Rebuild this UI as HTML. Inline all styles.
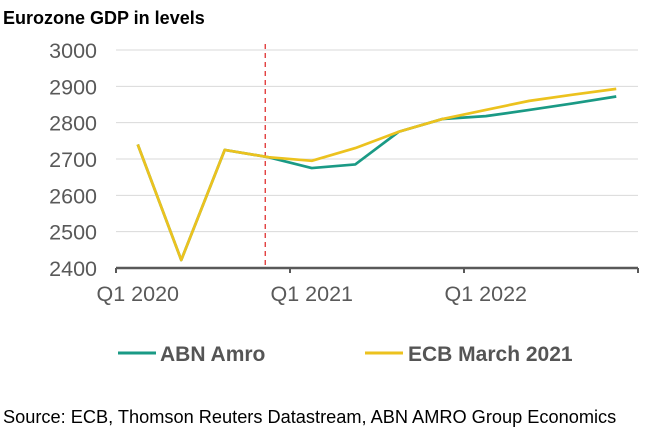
<!DOCTYPE html>
<html><head><meta charset="utf-8"><style>
body{margin:0;background:#fff;width:650px;height:440px;overflow:hidden;font-family:"Liberation Sans",sans-serif}
svg{display:block}
</style></head><body>
<svg id="c" width="650" height="440">
<text x="3" y="24" font-size="18" font-weight="bold" fill="#000">Eurozone GDP in levels</text>
<g id="grid"></g><g id="series"></g>
<g>
<line x1="118" y1="353" x2="156" y2="353" stroke="#1a9a85" stroke-width="3"/>
<text x="160" y="361" font-size="21" font-weight="bold" fill="#555">ABN Amro</text>
<line x1="365" y1="353" x2="403" y2="353" stroke="#ecc21e" stroke-width="3"/>
<text x="408" y="361" font-size="21" font-weight="bold" fill="#555">ECB March 2021</text>
</g>
<text x="3" y="423" font-size="18.2" fill="#000">Source: ECB, Thomson Reuters Datastream, ABN AMRO Group Economics</text>
</svg>
<script>
const quarters=["Q1 2020","Q2 2020","Q3 2020","Q4 2020","Q1 2021","Q2 2021","Q3 2021","Q4 2021","Q1 2022","Q2 2022","Q3 2022","Q4 2022"];
const abn=[2740,2422,2725,2705,2675,2685,2775,2810,2818,2835,2853,2872];
const ecb=[2740,2422,2725,2705,2695,2730,2775,2810,2835,2860,2877,2893];
const yTicks=[2400,2500,2600,2700,2800,2900,3000];
const xLabels=["Q1 2020","Q1 2021","Q1 2022"];
const NS="http://www.w3.org/2000/svg";
const x0=116,x1=638,yMin=2400,yMax=3000,py0=268,py1=50;
const step=(x1-x0)/quarters.length;
const X=i=>x0+step*(i+0.5);
const Y=v=>py0+(v-yMin)*(py1-py0)/(yMax-yMin);
function mk(t,a,p){const e=document.createElementNS(NS,t);for(const k in a)e.setAttribute(k,a[k]);p.appendChild(e);return e;}
const g=document.getElementById('grid'),s=document.getElementById('series');
yTicks.forEach(v=>{
 if(v!==yMin){const l=mk('line',{x1:x0,x2:x1,y1:Y(v),y2:Y(v),stroke:'#d9d9d9','stroke-width':1},g);
 
 }
 const t=mk('text',{x:97,y:Y(v)+8,'font-size':21.5,'text-anchor':'end',fill:'#595959'},g);t.textContent=v;
 
 
});
const ax=mk('line',{x1:x0,x2:x1,y1:py0,y2:py0,stroke:'#595959','stroke-width':2.5},g);


for(let k=0;k<=quarters.length;k+=4){const tk=mk('line',{x1:x0+k*step,x2:x0+k*step,y1:py0,y2:py0+5,stroke:'#595959','stroke-width':2},g);
 
 }
xLabels.forEach(lb=>{const i=quarters.indexOf(lb);const t=mk('text',{x:X(i),y:301,'font-size':21.5,'text-anchor':'middle',fill:'#595959'},g);t.textContent=lb;
 
 });
const vx=X(3)-3;
const vl=mk('line',{x1:vx,x2:vx,y1:44,y2:py0,stroke:'#e03030','stroke-width':1.3,'stroke-dasharray':'5,4'},g);


function line(d,c,n){const p=mk('polyline',{points:d.map((v,i)=>X(i)+','+Y(v)).join(' '),fill:'none',stroke:c,'stroke-width':2.7,'stroke-linejoin':'round'},s);
 
 }
line(abn,'#1a9a85','series-abn-amro');
line(ecb,'#ecc21e','series-ecb-march-2021');
</script>
</body></html>
